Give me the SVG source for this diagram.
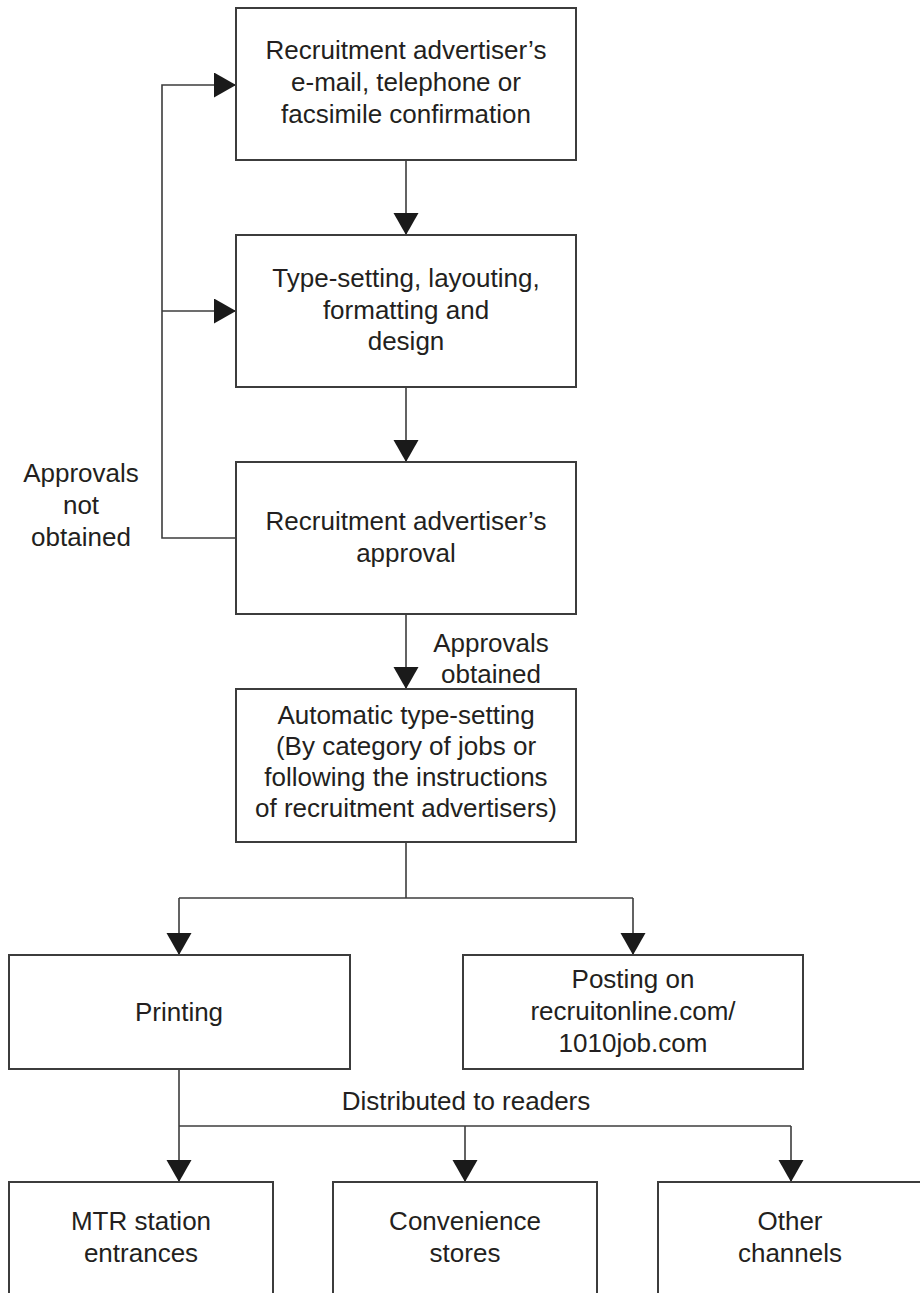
<svg xmlns="http://www.w3.org/2000/svg" width="920" height="1293" viewBox="0 0 920 1293">
  <style>
    .box { fill: #ffffff; stroke: #3c3c3c; stroke-width: 2; }
    .lbl { font-family: "Liberation Sans", Arial, sans-serif; font-size: 26px; fill: #231f20; text-anchor: middle; }
    .wire { fill: none; stroke: #3c3c3c; stroke-width: 1.6; }
  </style>
  <defs>
    <marker id="arrow" markerUnits="userSpaceOnUse" markerWidth="23" markerHeight="26" refX="22" refY="12.5" orient="auto">
      <path d="M0,0 L22,12.5 L0,25 Z" fill="#1a1a1a"/>
    </marker>
  </defs>

  <rect width="920" height="1293" fill="#ffffff"/>

  <!-- connectors -->
  <g id="connectors">
    <path class="wire" d="M406,160 V235" marker-end="url(#arrow)"/>
    <path class="wire" d="M406,387 V462" marker-end="url(#arrow)"/>
    <path class="wire" d="M406,614 V689" marker-end="url(#arrow)"/>
    <!-- rejection loop back to the first two steps -->
    <path class="wire" d="M236,538 H162 V85 H236" marker-end="url(#arrow)"/>
    <path class="wire" d="M162,311 H236" marker-end="url(#arrow)"/>
    <!-- split to print and online -->
    <path class="wire" d="M406,842 V898"/>
    <path class="wire" d="M179,898 H633"/>
    <path class="wire" d="M179,898 V955" marker-end="url(#arrow)"/>
    <path class="wire" d="M633,898 V955" marker-end="url(#arrow)"/>
    <!-- distribution -->
    <path class="wire" d="M179,1069 V1182" marker-end="url(#arrow)"/>
    <path class="wire" d="M179,1126 H791"/>
    <path class="wire" d="M465,1126 V1182" marker-end="url(#arrow)"/>
    <path class="wire" d="M791,1126 V1182" marker-end="url(#arrow)"/>
  </g>

  <!-- edge labels -->
  <g id="label-not-obtained">
    <text class="lbl" x="81" y="482">Approvals</text>
    <text class="lbl" x="81" y="514">not</text>
    <text class="lbl" x="81" y="546">obtained</text>
  </g>
  <g id="label-obtained">
    <text class="lbl" x="491" y="652">Approvals</text>
    <text class="lbl" x="491" y="683">obtained</text>
  </g>
  <g id="label-distributed">
    <text class="lbl" x="466" y="1110">Distributed to readers</text>
  </g>

  <!-- nodes -->
  <g id="confirmation">
    <rect class="box" x="236" y="8" width="340" height="152"/>
    <text class="lbl" x="406" y="59">Recruitment advertiser’s</text>
    <text class="lbl" x="406" y="91">e-mail, telephone or</text>
    <text class="lbl" x="406" y="123">facsimile confirmation</text>
  </g>
  <g id="typesetting">
    <rect class="box" x="236" y="235" width="340" height="152"/>
    <text class="lbl" x="406" y="287">Type-setting, layouting,</text>
    <text class="lbl" x="406" y="319">formatting and</text>
    <text class="lbl" x="406" y="350">design</text>
  </g>
  <g id="approval">
    <rect class="box" x="236" y="462" width="340" height="152"/>
    <text class="lbl" x="406" y="530">Recruitment advertiser’s</text>
    <text class="lbl" x="406" y="562">approval</text>
  </g>
  <g id="auto-typesetting">
    <rect class="box" x="236" y="689" width="340" height="153"/>
    <text class="lbl" x="406" y="724">Automatic type-setting</text>
    <text class="lbl" x="406" y="755">(By category of jobs or</text>
    <text class="lbl" x="406" y="786">following the instructions</text>
    <text class="lbl" x="406" y="817">of recruitment advertisers)</text>
  </g>
  <g id="printing">
    <rect class="box" x="9" y="955" width="341" height="114"/>
    <text class="lbl" x="179" y="1021">Printing</text>
  </g>
  <g id="posting">
    <rect class="box" x="463" y="955" width="340" height="114"/>
    <text class="lbl" x="633" y="988">Posting on</text>
    <text class="lbl" x="633" y="1020">recruitonline.com/</text>
    <text class="lbl" x="633" y="1052">1010job.com</text>
  </g>
  <g id="mtr">
    <rect class="box" x="9" y="1182" width="264" height="130"/>
    <text class="lbl" x="141" y="1230">MTR station</text>
    <text class="lbl" x="141" y="1262">entrances</text>
  </g>
  <g id="convenience">
    <rect class="box" x="333" y="1182" width="264" height="130"/>
    <text class="lbl" x="465" y="1230">Convenience</text>
    <text class="lbl" x="465" y="1262">stores</text>
  </g>
  <g id="other">
    <rect class="box" x="658" y="1182" width="264" height="130"/>
    <text class="lbl" x="790" y="1230">Other</text>
    <text class="lbl" x="790" y="1262">channels</text>
  </g>
</svg>
